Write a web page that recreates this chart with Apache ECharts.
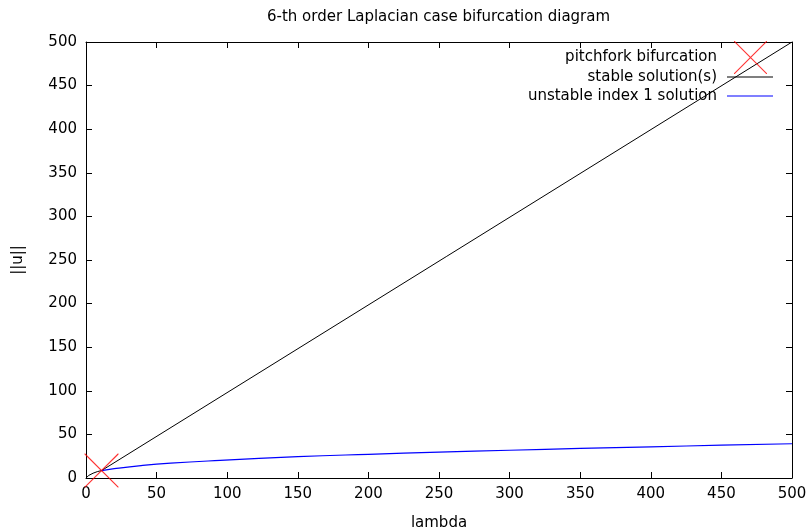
<!DOCTYPE html>
<html>
<head>
<meta charset="utf-8">
<script src="https://cdn.jsdelivr.net/npm/echarts@6/dist/echarts.min.js"></script>
<style>html,body{margin:0;padding:0;background:#fff}#c{width:809px;height:530px}</style>
</head>
<body>
<div id="c"></div>
<script>
var tickValues = [0, 50, 100, 150, 200, 250, 300, 350, 400, 450, 500];
var pitchfork = [[11, 8.5]];
var stable = [[0, 0], [2, 3], [5, 5.5], [8, 7.3], [11, 8.5], [500, 500]];
var unstable = [[11, 8.5], [20, 10.7], [39, 14.2], [60, 17], [95, 20.2], [150, 24.4], [200, 27.2], [250, 29.6], [300, 31.8], [350, 34], [400, 35.8], [450, 37.6], [500, 39.3]];

var FONT = 'DejaVu Sans';
var FS = 15;
var XPATH = 'path://M0,0L0.8,0L34,33.2L34,34L33.2,34L0,0.8Z M34,0L34,0.8L0.8,34L0,34L0,33.2L33.2,0Z';
var chart = echarts.init(document.getElementById('c'));
function axisBase(pos, showLabel) {
  return {
    type: 'value', position: pos, min: 0, max: 500, interval: 50,
    axisLine: {show: true, onZero: false, lineStyle: {color: '#000', width: 1}},
    axisTick: {show: true, inside: true, length: 6, lineStyle: {color: '#000'}},
    axisLabel: {show: showLabel, color: '#000', fontFamily: FONT, fontSize: FS, margin: 9},
    splitLine: {show: false}
  };
}
var xb = axisBase('bottom', true);
xb.name = 'lambda'; xb.nameLocation = 'middle'; xb.nameGap = 38;
xb.nameTextStyle = {color: '#000', fontFamily: FONT, fontSize: FS};
var xt = axisBase('top', false);
var yl = axisBase('left', true);
yl.name = '||u||'; yl.nameLocation = 'middle'; yl.nameGap = 60; yl.nameRotate = 90;
yl.nameTextStyle = {color: '#000', fontFamily: FONT, fontSize: FS};
var yr = axisBase('right', false);

function legendText(padRight) {
  return {color: '#000', fontFamily: FONT, fontSize: FS, lineHeight: 16, padding: [0, padRight, 0, 0]};
}
chart.setOption({
  backgroundColor: '#fff',
  animation: false,
  title: {text: '6-th order Laplacian case bifurcation diagram', left: 267, top: 10, padding: 0,
    textStyle: {color: '#000', fontFamily: FONT, fontSize: FS, fontWeight: 'normal'}},
  grid: {left: 86, right: 17, top: 42, bottom: 52, containLabel: false, outerBoundsMode: 'none'},
  legend: [
    {data: [{name: 'pitchfork bifurcation', icon: XPATH, itemStyle: {color: '#ff0000', borderWidth: 0}}],
      orient: 'vertical', align: 'right', padding: 0,
      right: 42, top: 41, itemWidth: 33, itemHeight: 33, itemGap: 10, textStyle: legendText(12)},
    {data: [{name: 'stable solution(s)', icon: 'rect', itemStyle: {color: '#000000', borderWidth: 0}}],
      orient: 'vertical', align: 'right', padding: 0,
      right: 36, top: 69, itemWidth: 46, itemHeight: 1.2, itemGap: 10, textStyle: legendText(5)},
    {data: [{name: 'unstable index 1 solution', icon: 'rect', itemStyle: {color: '#0000ff', borderWidth: 0}}],
      orient: 'vertical', align: 'right', padding: 0,
      right: 36, top: 88, itemWidth: 46, itemHeight: 1.2, itemGap: 10, textStyle: legendText(5)}
  ],
  xAxis: [xb, xt],
  yAxis: [yl, yr],
  series: [
    {name: 'pitchfork bifurcation', type: 'scatter', data: pitchfork, symbol: XPATH,
      symbolSize: 34, clip: false, z: 5,
      itemStyle: {color: '#ff0000', borderWidth: 0}},
    {name: 'stable solution(s)', type: 'line', data: stable, showSymbol: false, symbol: 'none',
      lineStyle: {color: '#000', width: 1}, itemStyle: {color: '#000'}},
    {name: 'unstable index 1 solution', type: 'line', data: unstable, showSymbol: false, symbol: 'none', smooth: true,
      lineStyle: {color: '#0000ff', width: 1.2}, itemStyle: {color: '#0000ff'}}
  ]
});
</script>
</body>
</html>
